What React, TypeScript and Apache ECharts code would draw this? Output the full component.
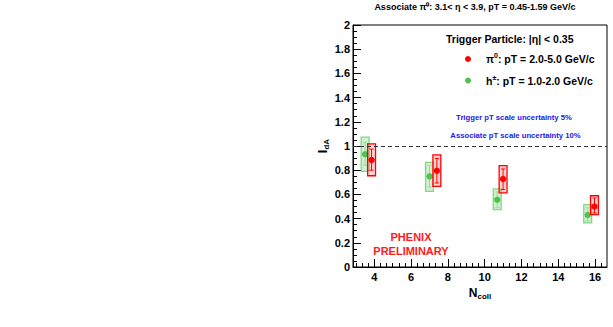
import { useEffect, useRef } from "react";
import * as echarts from "echarts";

// ---- data ----
const ncollPi0 = [3.85, 7.4, 11.0, 15.97];
const idaPi0 = [0.885, 0.796, 0.727, 0.5];
const statPi0Low = [0.8, 0.694, 0.64, 0.447];
const statPi0High = [0.975, 0.897, 0.81, 0.57];
const sysPi0Low = [0.754, 0.666, 0.612, 0.433];
const sysPi0High = [1.018, 0.927, 0.837, 0.589];

const ncollH = [3.5, 7.0, 10.68, 15.6];
const idaH = [0.932, 0.749, 0.556, 0.43];
const statHLow = [0.84, 0.66, 0.49, 0.38];
const statHHigh = [1.03, 0.84, 0.62, 0.49];
const sysHLow = [0.79, 0.625, 0.474, 0.364];
const sysHHigh = [1.073, 0.864, 0.645, 0.515];

const xMajorTicks = [4, 6, 8, 10, 12, 14, 16];
const xMinorTicks: number[] = [];
for (let k = 9; k <= 49; k++) {
  if (k % 6 !== 0) xMinorTicks.push(k / 3);
}

const FONT = "'Liberation Sans', Arial, Helvetica, sans-serif";

function rows(x: number[], y: number[], sLo: number[], sHi: number[], eLo: number[], eHi: number[]) {
  return x.map((v, i) => [v, y[i], sLo[i], sHi[i], eLo[i], eHi[i]]);
}

function makeRender(color: string, fill: string, stroke: string, errColor: string) {
  return (params: any, api: any) => {
    const x = api.value(0);
    const y = api.value(1);
    const top = api.coord([x, api.value(3)]);
    const bot = api.coord([x, api.value(2)]);
    const eT = api.coord([x, api.value(5)]);
    const eB = api.coord([x, api.value(4)]);
    const c = api.coord([x, y]);
    const w = api.size([0.43, 0])[0];
    const cap = 2;
    return {
      type: "group",
      children: [
        {
          type: "rect",
          shape: { x: c[0] - w / 2, y: top[1], width: w, height: bot[1] - top[1] },
          style: { fill, stroke, lineWidth: 1.3 },
        },
        {
          type: "line",
          shape: { x1: c[0], y1: eT[1], x2: c[0], y2: eB[1] },
          style: { stroke: errColor, lineWidth: 1 },
        },
        {
          type: "line",
          shape: { x1: c[0] - cap, y1: eT[1], x2: c[0] + cap, y2: eT[1] },
          style: { stroke: errColor, lineWidth: 1 },
        },
        {
          type: "line",
          shape: { x1: c[0] - cap, y1: eB[1], x2: c[0] + cap, y2: eB[1] },
          style: { stroke: errColor, lineWidth: 1 },
        },
        {
          type: "circle",
          shape: { cx: c[0], cy: c[1], r: 3.2 },
          style: { fill: color },
        },
      ],
    };
  };
}

const RED = "#ff0000";
const GREEN = "#4cc44c";

const option: any = {
  animation: false,
  backgroundColor: "#fff",
  grid: {
    left: 353,
    right: 6,
    top: 25,
    bottom: 60,
    show: true,
    borderColor: "#000",
    borderWidth: 1,
    backgroundColor: "transparent",
  },
  xAxis: [
    {
      type: "value",
      min: 2.84,
      max: 16.65,
      position: "bottom",
      axisLine: { show: true, lineStyle: { color: "#000", width: 1 } },
      axisTick: { show: true, inside: true, length: 8, customValues: xMajorTicks, lineStyle: { color: "#000" } },
      axisLabel: {
        show: true,
        customValues: xMajorTicks,
        fontFamily: FONT,
        fontWeight: "bold",
        fontSize: 11,
        color: "#000",
        margin: 4,
      },
      splitLine: { show: false },
      name: "{n|N}{s|coll}",
      nameLocation: "middle",
      nameGap: 16,
      nameTextStyle: {
        rich: {
          n: { fontFamily: FONT, fontWeight: "bold", fontSize: 12, color: "#000", lineHeight: 16 },
          s: { fontFamily: FONT, fontWeight: "bold", fontSize: 8, color: "#000", lineHeight: 8, verticalAlign: "bottom" },
        },
      },
    },
    {
      type: "value",
      min: 2.84,
      max: 16.65,
      position: "bottom",
      axisLine: { show: false },
      axisTick: { show: true, inside: true, length: 4, customValues: xMinorTicks, lineStyle: { color: "#000" } },
      axisLabel: { show: false },
      splitLine: { show: false },
    },
  ],
  yAxis: {
    type: "value",
    min: 0,
    max: 2,
    interval: 0.2,
    axisLine: { show: true, lineStyle: { color: "#000", width: 1 } },
    axisTick: { show: true, inside: true, length: 8, lineStyle: { color: "#000" } },
    minorTick: { show: true, splitNumber: 4, length: 4, lineStyle: { color: "#000" } },
    axisLabel: {
      fontFamily: FONT,
      fontWeight: "bold",
      fontSize: 11,
      color: "#000",
      margin: 3,
    },
    splitLine: { show: false },
    name: "{n|I}{s|dA}",
    nameLocation: "middle",
    nameGap: 22,
    nameRotate: 90,
    nameTextStyle: {
      rich: {
        n: { fontFamily: FONT, fontWeight: "bold", fontSize: 13, color: "#000", lineHeight: 16 },
        s: { fontFamily: FONT, fontWeight: "bold", fontSize: 8, color: "#000", lineHeight: 8, verticalAlign: "bottom" },
      },
    },
  },
  series: [
    {
      type: "custom",
      name: "h",
      xAxisIndex: 0,
      renderItem: makeRender(GREEN, "rgba(90,200,90,0.28)", "#80d880", "#9adf9a"),
      data: rows(ncollH, idaH, sysHLow, sysHHigh, statHLow, statHHigh),
      encode: { x: 0, y: [1, 2, 3] },
      markLine: {
        silent: true,
        symbol: "none",
        label: { show: false },
        lineStyle: { type: [4, 3], color: "#333", width: 1 },
        data: [{ yAxis: 1 }],
      },
      z: 2,
    },
    {
      type: "custom",
      name: "pi0",
      xAxisIndex: 0,
      renderItem: makeRender(RED, "rgba(255,80,80,0.25)", RED, RED),
      data: rows(ncollPi0, idaPi0, sysPi0Low, sysPi0High, statPi0Low, statPi0High),
      encode: { x: 0, y: [1, 2, 3] },
      z: 3,
    },
  ],
  graphic: [
    {
      type: "text",
      x: 475,
      y: 7,
      style: {
        text: "Associate π⁰: 3.1< η < 3.9, pT = 0.45-1.59 GeV/c",
        font: `bold 9px ${FONT}`,
        fill: "#000",
        align: "center",
        verticalAlign: "middle",
      },
    },
    {
      type: "text",
      x: 446,
      y: 38.5,
      style: {
        text: "Trigger Particle: |η| < 0.35",
        font: `bold 10.5px ${FONT}`,
        fill: "#000",
        align: "left",
        verticalAlign: "middle",
      },
    },
    { type: "circle", shape: { cx: 468, cy: 59, r: 3 }, style: { fill: RED } },
    {
      type: "text",
      x: 486,
      y: 59,
      style: {
        text: "{m|π}{sup|0}{m|: pT = 2.0-5.0 GeV/c}",
        verticalAlign: "middle",
        align: "left",
        rich: {
          m: { font: `bold 10.5px ${FONT}`, fill: "#000", lineHeight: 14 },
          sup: { font: `bold 7px ${FONT}`, fill: "#000", lineHeight: 7, verticalAlign: "top" },
        },
      },
    },
    { type: "circle", shape: { cx: 468, cy: 80.5, r: 3 }, style: { fill: GREEN } },
    {
      type: "text",
      x: 486,
      y: 80.5,
      style: {
        text: "{m|h}{sup|±}{m|: pT = 1.0-2.0 GeV/c}",
        verticalAlign: "middle",
        align: "left",
        rich: {
          m: { font: `bold 10.5px ${FONT}`, fill: "#000", lineHeight: 14 },
          sup: { font: `bold 7px ${FONT}`, fill: "#000", lineHeight: 7, verticalAlign: "top" },
        },
      },
    },
    {
      type: "text",
      x: 514,
      y: 117,
      style: {
        text: "Trigger pT scale uncertainty 5%",
        font: `bold 7.7px ${FONT}`,
        fill: "#1a1aee",
        align: "center",
        verticalAlign: "middle",
      },
    },
    {
      type: "text",
      x: 515.5,
      y: 135.5,
      style: {
        text: "Associate pT scale uncertainty 10%",
        font: `bold 7.7px ${FONT}`,
        fill: "#1a1aee",
        align: "center",
        verticalAlign: "middle",
      },
    },
    {
      type: "text",
      x: 411,
      y: 236.5,
      style: {
        text: "PHENIX",
        font: `bold 11px ${FONT}`,
        fill: "#ff1a1a",
        align: "center",
        verticalAlign: "middle",
      },
    },
    {
      type: "text",
      x: 411,
      y: 251,
      style: {
        text: "PRELIMINARY",
        font: `bold 11px ${FONT}`,
        fill: "#ff1a1a",
        align: "center",
        verticalAlign: "middle",
      },
    },
  ],
};

export default function App() {
  const ref = useRef<HTMLDivElement>(null);
  useEffect(() => {
    const chart = echarts.init(ref.current!, null, { renderer: "svg" });
    chart.setOption(option);
    return () => chart.dispose();
  }, []);
  return (
    <div
      ref={ref}
      style={{ position: "fixed", left: 0, top: 0, width: 613, height: 327, background: "#fff" }}
    />
  );
}
